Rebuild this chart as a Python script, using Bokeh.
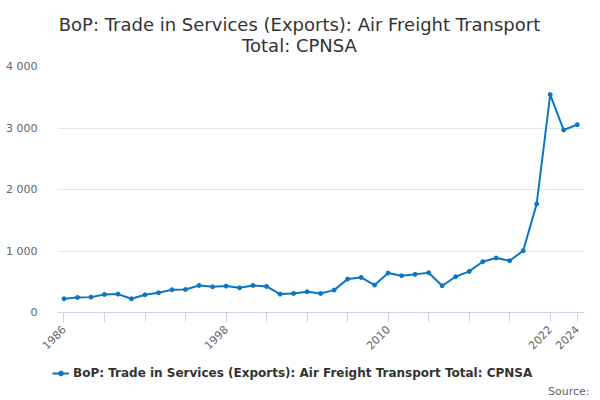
from bokeh.plotting import figure
from bokeh.models import FixedTicker, Range1d, Legend, LegendItem, Label
from bokeh.layouts import column
from bokeh.embed import file_html
from bokeh.resources import INLINE
import math

years = list(range(1986, 2025))
values = [223, 245, 250, 293, 299, 223, 288, 321, 370, 375,
          440, 418, 429, 402, 440, 424, 299, 310, 337, 310,
          364, 543, 571, 446, 641, 598, 620, 647, 435, 582,
          668, 826, 886, 842, 1005, 1766, 3543, 2967, 3054]
x_ticks = list(range(1986, 2023, 3)) + [2024]
x_labels = {1986: "1986", 1998: "1998", 2010: "2010", 2022: "2022", 2024: "2024"}
y_ticks = [0, 1000, 2000, 3000, 4000]
y_labels = ["0", "1 000", "2 000", "3 000", "4 000"]
series_name = "BoP: Trade in Services (Exports): Air Freight Transport Total: CPNSA"
title1 = "BoP: Trade in Services (Exports): Air Freight Transport"
title2 = "Total: CPNSA"
source_text = "Source:"

FONT = "DejaVu Sans"
BLUE = "#0a77c2"


def blank(height, xr, yr):
    fig = figure(width=600, height=height, output_backend="svg", toolbar_location=None,
                 x_axis_location=None, y_axis_location=None,
                 x_range=xr, y_range=yr,
                 min_border=0, min_border_left=0, min_border_right=0,
                 min_border_top=0, min_border_bottom=0)
    fig.outline_line_color = None
    fig.xgrid.grid_line_color = None
    fig.ygrid.grid_line_color = None
    try:
        fig.frame_align = False
    except Exception:
        pass
    return fig


# header with the two title lines
h = blank(56, Range1d(0, 1), Range1d(0, 1))
for txt, yy in [(title1, 32), (title2, 10.7)]:
    h.add_layout(Label(x=299, y=yy, x_units="screen", y_units="screen", text=txt,
                       text_align="center", text_baseline="alphabetic", text_font=FONT,
                       text_font_size="18px", text_color="#333333"))

# main chart
p = figure(width=600, height=304, output_backend="svg", toolbar_location=None,
           x_range=Range1d(1985.52, 2024.54), y_range=Range1d(0, 4000),
           min_border_left=57, min_border_right=16, min_border_top=10, min_border_bottom=48)
p.outline_line_color = None
p.background_fill_color = "white"
try:
    p.frame_align = False
except Exception:
    pass

p.line(years, values, line_color=BLUE, line_width=2)
p.scatter(years, values, size=4, fill_color=BLUE, line_color=BLUE)

xa = p.xaxis[0]
xa.ticker = FixedTicker(ticks=x_ticks)
xa.major_label_overrides = {t: x_labels.get(t, "") for t in x_ticks}
xa.major_label_orientation = math.pi / 4
xa.major_label_text_font = FONT
xa.major_label_text_font_size = "11px"
xa.major_label_text_color = "#666666"
xa.axis_line_color = "#ccd6eb"
xa.major_tick_line_color = "#ccd6eb"
xa.major_tick_in = 0
xa.major_tick_out = 10
xa.minor_tick_line_color = None

ya = p.yaxis[0]
ya.ticker = FixedTicker(ticks=y_ticks)
ya.major_label_overrides = {t: lab for t, lab in zip(y_ticks, y_labels)}
ya.major_label_text_font = FONT
ya.major_label_text_font_size = "11px"
ya.major_label_text_color = "#666666"
ya.axis_line_color = None
ya.major_tick_line_color = None
ya.minor_tick_line_color = None
ya.major_label_standoff = 14

p.xgrid.grid_line_color = None
p.ygrid.grid_line_color = "#e6e6e6"
p.ygrid.ticker = FixedTicker(ticks=y_ticks)

# footer with legend and source
f = blank(40, Range1d(-1000, -999), Range1d(-1000, -999))
fl = f.line(years, values, line_color=BLUE, line_width=2)
fs = f.scatter(years, values, size=4, fill_color=BLUE, line_color=BLUE)

legend = Legend(items=[LegendItem(label=series_name, renderers=[fl, fs])],
                location=(52, 20), orientation="horizontal",
                label_text_font=FONT, label_text_font_size="12px",
                label_text_font_style="bold", label_text_color="#333333",
                border_line_color=None, background_fill_alpha=0,
                glyph_width=17, glyph_height=12, label_height=12, label_standoff=4,
                padding=0, margin=0)
f.add_layout(legend, "center")

f.add_layout(Label(x=589, y=9, x_units="screen", y_units="screen", text=source_text,
                   text_align="right", text_baseline="middle", text_font=FONT,
                   text_font_size="11px", text_color="#666666"))

open("out.html", "w").write(file_html(column(h, p, f, spacing=0), INLINE))
